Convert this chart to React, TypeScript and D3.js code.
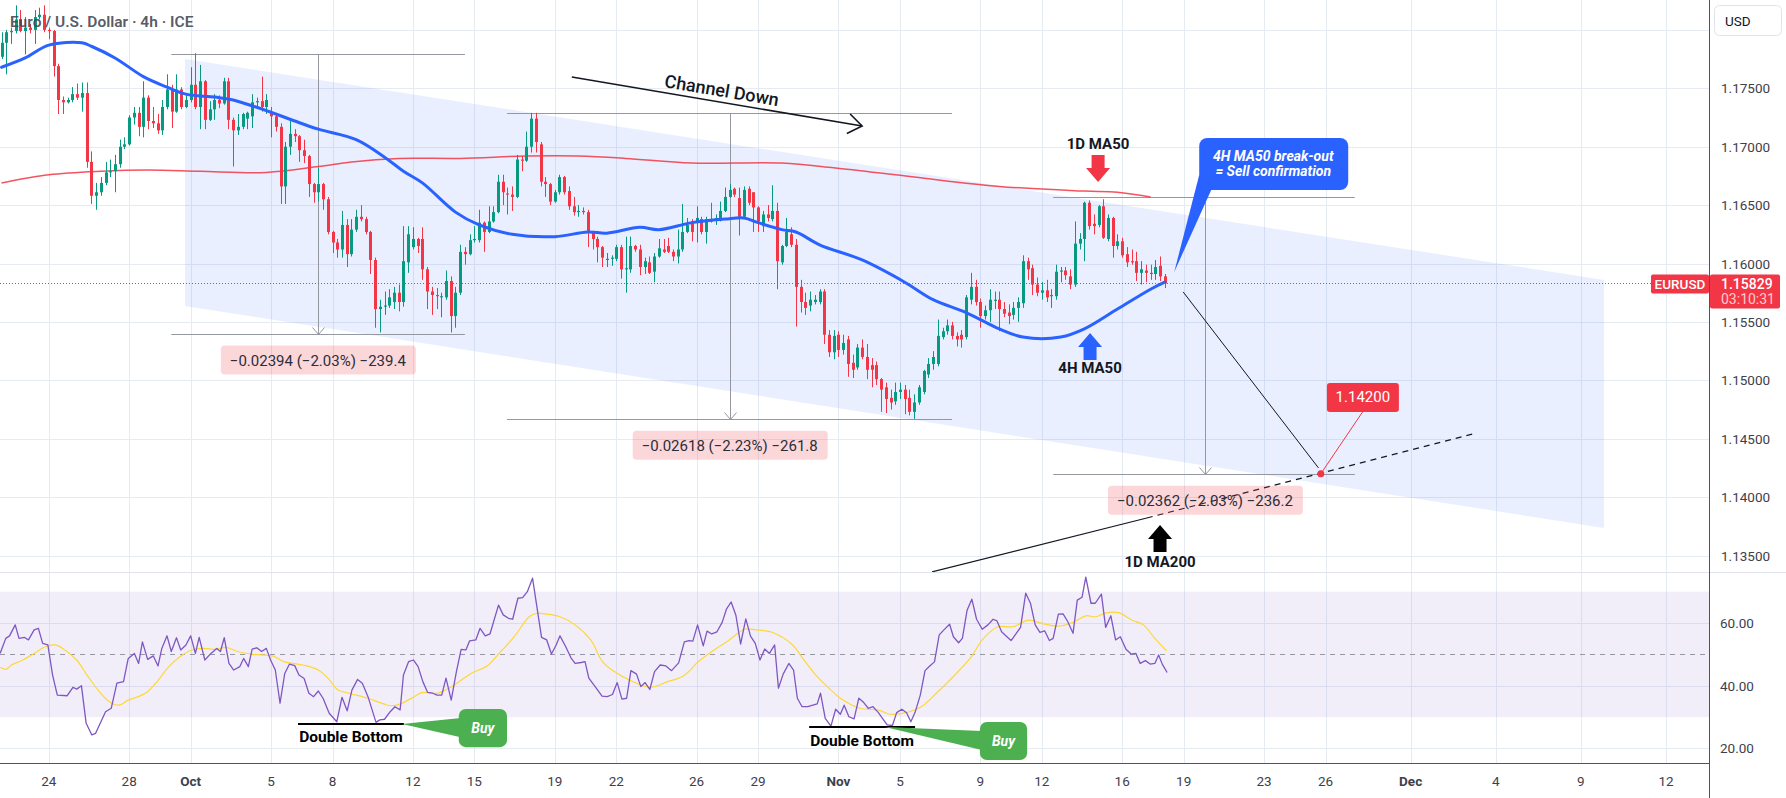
import { useEffect, useRef } from "react";
import * as d3 from "d3";

const W = 1786;
const H = 798;
const PLOT_R = 1709;
const PRICE_BOTTOM = 572;
const RSI_BOTTOM = 763;
const FONT = "Roboto, 'Noto Sans', Arial, sans-serif";

// 4h candles, first one sits at bar -10 (bar 0 = Sep 24 00:00)
const firstBar = -10;
const candles: [number, number, number, number][] = [
  [1.1777, 1.1798, 1.1775, 1.1789], [1.1789, 1.18, 1.1762, 1.1798], [1.1798, 1.1802, 1.1788, 1.1799],
  [1.1799, 1.1821, 1.1797, 1.1809], [1.1809, 1.1817, 1.1798, 1.1799], [1.1799, 1.1811, 1.1779, 1.1802],
  [1.1802, 1.1805, 1.1797, 1.18], [1.18, 1.1817, 1.1788, 1.1811], [1.1811, 1.1819, 1.1809, 1.1813],
  [1.1813, 1.1821, 1.1798, 1.18], [1.18, 1.1802, 1.1792, 1.1799], [1.1799, 1.18, 1.176, 1.1769],
  [1.1769, 1.1771, 1.1728, 1.174], [1.174, 1.1743, 1.1728, 1.1738], [1.1738, 1.1742, 1.1737, 1.174],
  [1.174, 1.1751, 1.1738, 1.1745], [1.1745, 1.1754, 1.174, 1.1742], [1.1742, 1.1755, 1.173, 1.1746],
  [1.1746, 1.1755, 1.1682, 1.1687], [1.1687, 1.1696, 1.1651, 1.1658], [1.1658, 1.1669, 1.1646, 1.1661],
  [1.1661, 1.1674, 1.1658, 1.1669], [1.1669, 1.1687, 1.1667, 1.1678], [1.1678, 1.1689, 1.1674, 1.1679],
  [1.1679, 1.1693, 1.1661, 1.1685], [1.1685, 1.1706, 1.1682, 1.17], [1.17, 1.1708, 1.1698, 1.1702],
  [1.1702, 1.1727, 1.1701, 1.1725], [1.1725, 1.1734, 1.1719, 1.1729], [1.1729, 1.1734, 1.1709, 1.1717],
  [1.1717, 1.1756, 1.1708, 1.1742], [1.1742, 1.1744, 1.1715, 1.1722], [1.1722, 1.1734, 1.1716, 1.172],
  [1.172, 1.1728, 1.1711, 1.1714], [1.1714, 1.174, 1.171, 1.1734], [1.1734, 1.1762, 1.1732, 1.1749],
  [1.1749, 1.1753, 1.1716, 1.173], [1.173, 1.1762, 1.1729, 1.1749], [1.1749, 1.1751, 1.1732, 1.1734],
  [1.1734, 1.1745, 1.1733, 1.174], [1.174, 1.1768, 1.1738, 1.1753], [1.1753, 1.178, 1.1732, 1.1734],
  [1.1734, 1.177, 1.1715, 1.1756], [1.1756, 1.1757, 1.1715, 1.1723], [1.1723, 1.1739, 1.1722, 1.1732],
  [1.1732, 1.1745, 1.1723, 1.174], [1.174, 1.1744, 1.1733, 1.1737], [1.1737, 1.1759, 1.1736, 1.1756],
  [1.1756, 1.1759, 1.1715, 1.1723], [1.1723, 1.1725, 1.1683, 1.1714], [1.1714, 1.1728, 1.171, 1.1717],
  [1.1717, 1.1729, 1.1715, 1.1728], [1.1724, 1.173, 1.1715, 1.1729], [1.1726, 1.1745, 1.1716, 1.1738],
  [1.1738, 1.1742, 1.1734, 1.1739], [1.1739, 1.176, 1.173, 1.1734], [1.1734, 1.1745, 1.1728, 1.174],
  [1.1729, 1.1734, 1.1708, 1.1726], [1.1726, 1.1727, 1.1713, 1.1717], [1.1717, 1.172, 1.1651, 1.1666],
  [1.1666, 1.1704, 1.1651, 1.17], [1.17, 1.1722, 1.1693, 1.1711], [1.1711, 1.1715, 1.1704, 1.1709],
  [1.1709, 1.171, 1.1687, 1.1697], [1.1697, 1.1706, 1.1686, 1.1692], [1.1692, 1.1693, 1.1657, 1.1668],
  [1.1668, 1.1669, 1.1652, 1.1661], [1.1661, 1.1682, 1.1653, 1.1668], [1.1668, 1.1669, 1.1646, 1.1655],
  [1.1655, 1.1657, 1.1625, 1.1627], [1.1627, 1.1628, 1.1609, 1.1618], [1.1618, 1.1621, 1.1605, 1.1612],
  [1.1612, 1.1645, 1.1605, 1.1633], [1.1633, 1.1638, 1.1597, 1.1608], [1.1608, 1.1638, 1.1606, 1.1629],
  [1.1629, 1.1646, 1.1627, 1.164], [1.164, 1.165, 1.1636, 1.1638], [1.1638, 1.164, 1.1625, 1.1627],
  [1.1627, 1.1628, 1.1591, 1.1603], [1.1603, 1.1605, 1.1545, 1.1561], [1.1561, 1.1569, 1.1541, 1.1563],
  [1.1563, 1.1576, 1.1556, 1.1564], [1.1564, 1.1578, 1.1562, 1.1571], [1.1567, 1.158, 1.1561, 1.1575],
  [1.1575, 1.1582, 1.1559, 1.1567], [1.1567, 1.1632, 1.1563, 1.1602], [1.1601, 1.1632, 1.1592, 1.1625],
  [1.1614, 1.1631, 1.1612, 1.1621], [1.1621, 1.1622, 1.1609, 1.1615], [1.1621, 1.1631, 1.1586, 1.1595],
  [1.1595, 1.1597, 1.1561, 1.1576], [1.1576, 1.158, 1.1556, 1.1573], [1.1573, 1.1579, 1.1561, 1.1572],
  [1.1571, 1.1575, 1.1554, 1.1572], [1.1571, 1.1594, 1.1569, 1.1585], [1.1585, 1.1589, 1.1541, 1.1555],
  [1.1555, 1.158, 1.1545, 1.1575], [1.1575, 1.1616, 1.1573, 1.161], [1.161, 1.1614, 1.1599, 1.1608],
  [1.1608, 1.1625, 1.1607, 1.162], [1.162, 1.1632, 1.1618, 1.1621], [1.162, 1.1646, 1.1618, 1.1635],
  [1.1635, 1.1636, 1.161, 1.1627], [1.1627, 1.1649, 1.1626, 1.1636], [1.1636, 1.1649, 1.1635, 1.1644],
  [1.1644, 1.1676, 1.1643, 1.167], [1.167, 1.1676, 1.165, 1.1661], [1.166, 1.1665, 1.1642, 1.1659],
  [1.1659, 1.1666, 1.1645, 1.1657], [1.1657, 1.1693, 1.1656, 1.1689], [1.1689, 1.1692, 1.1679, 1.1688],
  [1.1688, 1.1713, 1.1687, 1.17], [1.17, 1.1729, 1.1695, 1.1724], [1.1724, 1.1729, 1.1695, 1.1704],
  [1.1702, 1.1704, 1.1666, 1.167], [1.167, 1.1674, 1.1657, 1.1668], [1.1668, 1.1669, 1.165, 1.1653],
  [1.1653, 1.1663, 1.1652, 1.1661], [1.1661, 1.1676, 1.1659, 1.1674], [1.1674, 1.1675, 1.1659, 1.1661],
  [1.1662, 1.1666, 1.1646, 1.1649], [1.1649, 1.1657, 1.1641, 1.1644], [1.1644, 1.165, 1.164, 1.1645],
  [1.1645, 1.1648, 1.1642, 1.1644], [1.1644, 1.1646, 1.1614, 1.1627], [1.1627, 1.1628, 1.1612, 1.1621],
  [1.1621, 1.1623, 1.1601, 1.1614], [1.1614, 1.1615, 1.1597, 1.1605], [1.1603, 1.1609, 1.1597, 1.1604],
  [1.1604, 1.1607, 1.1598, 1.1605], [1.1604, 1.1616, 1.1602, 1.1614], [1.1614, 1.1616, 1.1587, 1.1595],
  [1.1595, 1.1623, 1.1575, 1.1596], [1.1595, 1.1623, 1.1592, 1.1615], [1.1615, 1.1616, 1.161, 1.1612],
  [1.1612, 1.1616, 1.159, 1.1597], [1.1597, 1.1605, 1.1591, 1.1602], [1.1601, 1.1606, 1.1591, 1.1592],
  [1.1593, 1.1609, 1.1584, 1.1606], [1.1606, 1.1621, 1.1605, 1.1613], [1.1612, 1.1621, 1.1609, 1.161],
  [1.1615, 1.1622, 1.1609, 1.161], [1.161, 1.1612, 1.1602, 1.1606], [1.1606, 1.1629, 1.16, 1.1612],
  [1.1612, 1.1651, 1.161, 1.1627], [1.1627, 1.1639, 1.1626, 1.1633], [1.1636, 1.1638, 1.1619, 1.1627],
  [1.1635, 1.1649, 1.1618, 1.1639], [1.1638, 1.164, 1.1625, 1.1627], [1.1627, 1.164, 1.1617, 1.1638],
  [1.1638, 1.1652, 1.1635, 1.1636], [1.1637, 1.1642, 1.1633, 1.1639], [1.1638, 1.1653, 1.1636, 1.1645],
  [1.1645, 1.1665, 1.1644, 1.1657], [1.1657, 1.1668, 1.1656, 1.1663], [1.1664, 1.1665, 1.1657, 1.1659],
  [1.1656, 1.1665, 1.1624, 1.164], [1.164, 1.1666, 1.1639, 1.1663], [1.1664, 1.1666, 1.165, 1.1652],
  [1.1661, 1.1661, 1.1627, 1.1648], [1.1648, 1.1649, 1.1627, 1.1636], [1.1632, 1.1645, 1.1627, 1.1642],
  [1.1642, 1.165, 1.1636, 1.1639], [1.1638, 1.1667, 1.1636, 1.1645], [1.1645, 1.1652, 1.1578, 1.1602],
  [1.1601, 1.1616, 1.1599, 1.1615], [1.1615, 1.1639, 1.1614, 1.1627], [1.1625, 1.1631, 1.1614, 1.1616],
  [1.1616, 1.1621, 1.1546, 1.158], [1.158, 1.1586, 1.1558, 1.1567], [1.1567, 1.1575, 1.1556, 1.1562],
  [1.1564, 1.1576, 1.1559, 1.1569], [1.1567, 1.1573, 1.1565, 1.1569], [1.1567, 1.1578, 1.1565, 1.1576],
  [1.1576, 1.1578, 1.1531, 1.1539], [1.1539, 1.1543, 1.152, 1.1524], [1.1524, 1.1543, 1.1518, 1.1538],
  [1.1539, 1.1542, 1.152, 1.1526], [1.1526, 1.1539, 1.1522, 1.1532], [1.1535, 1.1538, 1.1503, 1.1514],
  [1.1515, 1.1522, 1.1502, 1.1509], [1.1511, 1.1531, 1.1509, 1.1528], [1.1528, 1.1535, 1.1518, 1.152],
  [1.152, 1.1531, 1.1501, 1.1509], [1.1513, 1.1519, 1.1494, 1.1509], [1.1513, 1.1516, 1.1496, 1.1501],
  [1.1501, 1.1502, 1.1473, 1.1492], [1.1494, 1.1498, 1.1472, 1.1484], [1.1485, 1.1492, 1.1475, 1.1481],
  [1.1482, 1.1498, 1.1479, 1.149], [1.149, 1.1498, 1.1484, 1.1492], [1.1492, 1.1496, 1.1471, 1.1484],
  [1.1485, 1.1492, 1.147, 1.1473], [1.1473, 1.1488, 1.1467, 1.1481], [1.1481, 1.1496, 1.1479, 1.1494],
  [1.149, 1.1509, 1.1488, 1.1508], [1.1505, 1.1519, 1.1502, 1.1514], [1.1514, 1.1525, 1.1509, 1.152],
  [1.1514, 1.1552, 1.1512, 1.1538], [1.1537, 1.1545, 1.1535, 1.1542], [1.1542, 1.1552, 1.1539, 1.1547],
  [1.1547, 1.155, 1.1535, 1.1538], [1.1538, 1.1541, 1.1529, 1.1535], [1.1539, 1.1543, 1.1528, 1.1535],
  [1.1537, 1.1573, 1.1535, 1.1571], [1.1569, 1.1592, 1.1565, 1.158], [1.158, 1.1586, 1.1564, 1.1567],
  [1.1567, 1.157, 1.1545, 1.1555], [1.1555, 1.1564, 1.1552, 1.156], [1.156, 1.1578, 1.155, 1.1569],
  [1.1568, 1.1576, 1.1561, 1.1569], [1.1569, 1.1576, 1.1542, 1.1561], [1.1561, 1.1567, 1.1554, 1.1557],
  [1.1558, 1.1565, 1.1548, 1.1555], [1.1556, 1.1567, 1.1552, 1.1562], [1.1562, 1.1571, 1.155, 1.1567],
  [1.1566, 1.1607, 1.1562, 1.1602], [1.1602, 1.1605, 1.1586, 1.1595], [1.1596, 1.1599, 1.1573, 1.1582],
  [1.1582, 1.1588, 1.1572, 1.1575], [1.1575, 1.1584, 1.1569, 1.1577], [1.1577, 1.1586, 1.1567, 1.1571],
  [1.1572, 1.1578, 1.1562, 1.1573], [1.1572, 1.1599, 1.1569, 1.1593], [1.1593, 1.1597, 1.1584, 1.1594],
  [1.1594, 1.1597, 1.1586, 1.159], [1.1589, 1.1595, 1.1578, 1.1582], [1.1582, 1.1636, 1.158, 1.1617],
  [1.1617, 1.1626, 1.1612, 1.1621], [1.1621, 1.1653, 1.1602, 1.1652], [1.1652, 1.1654, 1.1629, 1.1632],
  [1.1634, 1.1642, 1.1625, 1.1632], [1.1633, 1.165, 1.1631, 1.1649], [1.1649, 1.1655, 1.1621, 1.1622],
  [1.1621, 1.1642, 1.1619, 1.1639], [1.1639, 1.164, 1.1605, 1.1615], [1.1615, 1.1625, 1.1612, 1.1619],
  [1.1619, 1.1622, 1.1605, 1.1607], [1.1608, 1.1614, 1.1597, 1.1601], [1.1602, 1.1612, 1.1599, 1.1601],
  [1.1602, 1.161, 1.1585, 1.1592], [1.1592, 1.1602, 1.1582, 1.1595], [1.1594, 1.1599, 1.1584, 1.1592],
  [1.1592, 1.1599, 1.1586, 1.1591], [1.1591, 1.1603, 1.1586, 1.1597], [1.1598, 1.1606, 1.1585, 1.1589],
  [1.1589, 1.1591, 1.1579, 1.15829],
];

// 4H MA50 (blue) and 1D MA50 (red), read at bar positions
const ma50Bars = [-10, -5, 0, 7, 9, 14, 20, 25, 29, 36, 39, 43, 48, 52, 57, 65, 71, 75, 79, 86, 91, 98, 107, 114, 118, 125, 129, 136, 143, 147, 150, 155, 158, 163, 172, 181, 187, 194, 201, 206, 214, 219, 226, 233, 236];
const ma50Vals = [1.1768, 1.1776, 1.1787, 1.1789, 1.1786, 1.1776, 1.176, 1.1751, 1.1745, 1.1742, 1.174, 1.1735, 1.1728, 1.1722, 1.1715, 1.1706, 1.1691, 1.1679, 1.1669, 1.1644, 1.1633, 1.1625, 1.1623, 1.1627, 1.1626, 1.1631, 1.1629, 1.1635, 1.1638, 1.1639, 1.1635, 1.1629, 1.1627, 1.1616, 1.1603, 1.1584, 1.1569, 1.1558, 1.1544, 1.1537, 1.1537, 1.1544, 1.1561, 1.1578, 1.1584];
const dayMaBars = [-10, 0, 11, 21, 32, 46, 57, 64, 74, 87, 101, 112, 122, 136, 155, 166, 183, 201, 219, 226, 233];
const dayMaVals = [1.1669, 1.1676, 1.1679, 1.168, 1.1679, 1.1678, 1.1683, 1.1687, 1.169, 1.169, 1.1692, 1.1692, 1.169, 1.1686, 1.1686, 1.1682, 1.1674, 1.1666, 1.1662, 1.1661, 1.1657];

// RSI 14 and its moving average
const rsiBars = [-10.3, -9.1, -8.3, -7.1, -6.3, -5.1, -4.3, -3.1, -2.2, -1.3, -0.2, 0.8, 1.8, 3.9, 5.1, 5.9, 6.9, 7.9, 9.1, 9.9, 12, 13.2, 14.4, 15.8, 16.8, 18.1, 19, 19.8, 20.9, 22.1, 23.1, 23.9, 25, 25.9, 27, 27.9, 29, 30, 31, 31.8, 33, 34.3, 35.5, 36.3, 37.1, 38.1, 39.1, 40.4, 41.2, 42.2, 43, 44, 45, 46, 46.9, 47.9, 48.9, 49.9, 50.9, 52, 52.9, 54, 55, 56, 57, 58, 59.3, 60.9, 62, 63.1, 64.1, 65.3, 66.3, 67.5, 69.2, 70, 71, 72.2, 73.2, 74.3, 75, 76.1, 77.1, 78.1, 79.1, 80.1, 81.2, 82.1, 83.1, 84, 85.1, 86.2, 87.2, 88.2, 89, 90.3, 91.2, 92.3, 93.3, 95.1, 96.1, 97.2, 98.1, 99.2, 100.2, 101.2, 102.3, 104.2, 105.3, 106.3, 107.3, 108.1, 109.3, 110.5, 111.3, 112.6, 113.4, 114.2, 115.5, 117, 118.1, 119.2, 120.2, 121.2, 122.2, 123.1, 124.3, 125.2, 126.1, 127.1, 128.1, 129.3, 130.5, 131.7, 133.2, 134.4, 135.4, 136.2, 137.2, 138.4, 139.2, 140.2, 141.3, 142.4, 143.3, 144.3, 145.3, 146.3, 147.4, 148.4, 149.4, 150.4, 151.4, 152.4, 153.5, 154.3, 155.3, 156.5, 157.5, 158.3, 159.3, 160.5, 162.5, 163.2, 164.2, 165.4, 166.4, 167.4, 168.2, 169.2, 170.3, 171.3, 172.3, 173.3, 174.3, 175.4, 176.3, 177.3, 178.4, 179.3, 180.4, 181.4, 182.3, 183.2, 184.3, 185.3, 186.3, 187.3, 188.3, 189.3, 190.5, 191.3, 192.4, 193.2, 194.2, 195.2, 196.2, 197.4, 198.6, 199.7, 200.5, 201.5, 202.5, 203.5, 204.6, 205.5, 206.6, 207.6, 208.6, 209.6, 210.6, 211.6, 212.4, 213.5, 214.5, 215.5, 216.6, 217.5, 218.5, 219.3, 220.4, 221.3, 222.6, 223.5, 224.6, 225.6, 226.6, 227.8, 228.9, 229.9, 230.8, 231.9, 232.9, 233.9, 234.7, 235.5, 236.5];
const rsiVals = [50.3, 55.1, 55.9, 59.4, 55.1, 55.4, 54.6, 57.8, 58.3, 53.5, 53.0, 43.4, 37.0, 36.8, 39.5, 38.9, 40.0, 28.0, 24.3, 24.8, 31.7, 32.8, 40.8, 41.3, 48.7, 50.3, 47.1, 54.0, 48.4, 49.5, 46.3, 51.9, 55.9, 50.9, 55.3, 51.4, 53.0, 55.9, 50.3, 55.4, 48.2, 50.3, 51.9, 50.9, 55.3, 47.1, 45.0, 46.1, 48.7, 46.1, 51.7, 52.1, 50.9, 51.9, 48.2, 45.0, 34.4, 43.9, 46.9, 46.4, 43.4, 42.3, 37.6, 36.5, 38.3, 36.0, 31.2, 28.5, 36.3, 32.0, 38.6, 42.0, 40.8, 36.5, 28.3, 29.1, 29.3, 31.7, 33.3, 32.3, 43.4, 47.7, 48.2, 46.1, 41.3, 37.9, 37.6, 37.0, 37.0, 42.4, 35.4, 44.5, 51.6, 51.4, 54.3, 54.6, 58.3, 55.9, 56.5, 65.7, 62.6, 61.5, 61.2, 67.9, 68.1, 70.0, 74.3, 55.4, 54.6, 50.1, 53.0, 55.9, 52.5, 48.7, 47.1, 47.4, 47.7, 42.4, 39.8, 36.7, 36.5, 37.2, 41.0, 35.7, 36.0, 44.8, 43.7, 39.7, 41.0, 38.8, 44.5, 46.6, 46.3, 44.8, 47.3, 54.0, 54.4, 54.2, 59.4, 52.7, 57.4, 56.5, 57.2, 60.2, 64.4, 66.7, 62.5, 53.3, 61.3, 55.8, 53.5, 48.2, 51.7, 50.3, 53.0, 39.2, 43.7, 47.1, 45.0, 36.0, 33.3, 33.3, 34.2, 37.6, 29.6, 27.1, 32.5, 30.9, 33.8, 30.1, 29.4, 36.0, 34.7, 32.8, 33.3, 31.5, 29.6, 27.5, 27.3, 31.4, 32.5, 31.4, 28.5, 31.5, 37.0, 44.8, 46.3, 47.6, 56.2, 57.8, 59.6, 55.6, 53.7, 55.1, 64.1, 67.6, 61.2, 58.0, 59.4, 61.2, 60.7, 57.2, 55.8, 54.4, 56.7, 58.6, 69.5, 66.3, 59.4, 57.0, 57.5, 54.4, 55.1, 62.8, 62.9, 60.4, 56.7, 67.3, 68.2, 74.6, 66.3, 66.3, 69.2, 58.6, 62.3, 54.6, 55.6, 51.6, 50.1, 50.3, 47.1, 48.0, 46.9, 47.1, 49.8, 46.8, 44.2];
const rsiMaBars = [-10.3, -9.1, -7.9, -5.5, -3.1, -0.6, 1.4, 3.4, 5.9, 8.3, 10.7, 12.8, 14.8, 16.8, 18.9, 20.9, 22.9, 25.4, 27.8, 30.2, 32.7, 35.1, 37.5, 39.9, 43.2, 47.3, 49.7, 53.7, 57, 59.4, 61, 63.5, 67.5, 70.8, 72.4, 74.4, 77.3, 78.9, 82.1, 85.4, 89.4, 92.7, 95.1, 98.4, 101.6, 103.2, 104.9, 108.1, 111.3, 114.6, 117.1, 119.6, 122.8, 127.3, 130.9, 134.2, 137.4, 140.7, 143.9, 147.1, 149.6, 153.2, 157.3, 159.3, 162.5, 165, 167.4, 171.5, 175.5, 178, 181.2, 184.5, 187.7, 190.9, 195, 197.4, 200.7, 203.9, 207.2, 210.4, 213.6, 216.9, 219.3, 221.3, 223.8, 226.2, 229.1, 231.5, 233.9, 236.4];
const rsiMaVals = [45.9, 45.2, 46.6, 48.2, 50.3, 52.5, 53.0, 51.4, 48.2, 42.9, 38.1, 34.9, 33.8, 35.4, 36.5, 38.1, 41.3, 46.1, 49.3, 51.4, 51.9, 51.6, 52.2, 50.9, 50.0, 49.5, 47.7, 46.6, 45.0, 41.8, 38.8, 37.6, 36.0, 34.2, 33.6, 34.2, 36.5, 37.8, 37.6, 39.9, 44.0, 46.3, 50.1, 55.6, 62.0, 63.1, 62.9, 62.0, 59.4, 54.6, 47.7, 44.5, 41.8, 39.5, 41.3, 43.1, 47.7, 51.4, 54.6, 58.0, 57.8, 56.9, 53.0, 49.0, 42.9, 39.2, 36.0, 32.8, 32.2, 30.9, 31.4, 33.3, 37.6, 42.3, 49.0, 54.6, 58.8, 58.8, 60.9, 59.7, 59.0, 60.4, 62.3, 62.0, 63.3, 63.3, 60.9, 59.4, 55.1, 51.1];

const priceTicks = [1.135, 1.14, 1.145, 1.15, 1.155, 1.16, 1.165, 1.17, 1.175, 1.18];
const rsiTicks = [20, 40, 60];
const dateLabels = ["24", "28", "Oct", "5", "8", "12", "15", "19", "22", "26", "29", "Nov", "5", "9", "12", "16", "19", "23", "26", "Dec", "4", "9", "12"];
const dateBars = [0, 17, 30, 47, 60, 77, 90, 107, 120, 137, 150, 167, 180, 197, 210, 227, 240, 257, 270, 288, 306, 324, 342];
const monthLabels = ["Oct", "Nov", "Dec"];

const lastPrice = 1.15829;
const countdown = "03:10:31";

// drawings
const channelBars = [28.8, 328.9, 328.9, 28.8];
const channelPrices = [1.17751, 1.15859, 1.13736, 1.15636];
const measureFrom = [25.9, 96.9, 212.4];
const measureTo = [88.0, 191, 276.2];
const measureMid = [56.9, 144, 244.5];
const measureTop = [1.17794, 1.17288, 1.16569];
const measureBottom = [1.154, 1.1467, 1.142];
const measureTexts = ["\u22120.02394 (\u22122.03%) \u2212239.4", "\u22120.02618 (\u22122.23%) \u2212261.8", "\u22120.02362 (\u22122.03%) \u2212236.2"];
const targetPrice = 1.142;
const targetBar = 269;
const dbFrom = [52.7, 160.8];
const dbTo = [75.1, 183.2];
const dbLevel = [27.8, 26.8];
const buyTipBars = [74.7, 176.8];
const buyBoxBars = [[86.7, 96.9], [196.9, 206.9]];
const buyBoxRsi = [[32.6, 20.4], [28.4, 16.3]];

export default function App() {
  const ref = useRef<SVGSVGElement>(null);

  useEffect(() => {
    document.body.style.margin = "0";
    if (!ref.current) return;
    const svg = d3.select(ref.current);
    svg.selectAll("*").remove();

    const x = d3.scaleLinear().domain([0, 342]).range([48.8, 1666]);
    const y = d3.scaleLinear().domain([1.135, 1.175]).range([555.5, 88.3]);
    const yr = d3.scaleLinear().domain([20, 60]).range([748.4, 623]);

    const defs = svg.append("defs");
    defs.append("clipPath").attr("id", "pricePane").append("rect").attr("x", 0).attr("y", 0).attr("width", PLOT_R).attr("height", PRICE_BOTTOM);
    defs.append("clipPath").attr("id", "rsiPane").append("rect").attr("x", 0).attr("y", PRICE_BOTTOM + 1).attr("width", PLOT_R).attr("height", RSI_BOTTOM - PRICE_BOTTOM - 1);

    svg.append("rect").attr("width", W).attr("height", H).attr("fill", "#fff");

    // grid
    const grid = svg.append("g").attr("stroke", "#e6ebf2").attr("stroke-width", 1);
    priceTicks.forEach((t) => {
      const yy = Math.round(y(t)) + 0.5;
      grid.append("line").attr("x1", 0).attr("x2", PLOT_R).attr("y1", yy).attr("y2", yy);
    });
    rsiTicks.forEach((t) => {
      const yy = Math.round(yr(t)) + 0.5;
      grid.append("line").attr("x1", 0).attr("x2", PLOT_R).attr("y1", yy).attr("y2", yy);
    });
    dateBars.forEach((b) => {
      const xx = Math.round(x(b)) + 0.5;
      grid.append("line").attr("x1", xx).attr("x2", xx).attr("y1", 0).attr("y2", RSI_BOTTOM);
    });

    const price = svg.append("g").attr("clip-path", "url(#pricePane)");

    // parallel channel
    const chPts = channelBars.map((b, i) => [x(b), y(channelPrices[i])].join(",")).join(" ");
    price.append("polygon").attr("points", chPts).attr("fill", "rgba(41,98,255,0.1)");

    // measurement tools
    measureTop.forEach((top, i) => {
      const g = price.append("g").attr("stroke", "#9598a1").attr("stroke-width", 1).attr("fill", "none");
      const x1 = x(measureFrom[i]), x2 = x(measureTo[i]), xm = Math.round(x(measureMid[i])) + 0.5;
      const yt = Math.round(y(top)) + 0.5, yb = Math.round(y(measureBottom[i])) + 0.5;
      g.append("line").attr("x1", x1).attr("x2", x2).attr("y1", yt).attr("y2", yt);
      g.append("line").attr("x1", x1).attr("x2", x2).attr("y1", yb).attr("y2", yb);
      g.append("line").attr("x1", xm).attr("x2", xm).attr("y1", yt).attr("y2", yb);
      g.append("path").attr("d", `M${xm - 6},${yb - 7}L${xm},${yb}L${xm + 6},${yb - 7}`);
    });

    // moving averages
    const maLine = d3.line<number>().curve(d3.curveCatmullRom.alpha(0.5));
    price.append("path")
      .attr("d", maLine.x((_, i) => x(dayMaBars[i])).y((v) => y(v))(dayMaVals))
      .attr("fill", "none").attr("stroke", "#f23645").attr("stroke-opacity", 0.85).attr("stroke-width", 1.5);

    // candles
    const cg = price.append("g");
    candles.forEach((c, i) => {
      const [o, h, l, cl] = c;
      const b = firstBar + i;
      const cx = Math.round(x(b));
      const col = cl >= o ? "#089981" : "#f23645";
      cg.append("line").attr("x1", cx + 0.5).attr("x2", cx + 0.5).attr("y1", y(h)).attr("y2", y(l)).attr("stroke", col).attr("stroke-width", 1);
      const top = y(Math.max(o, cl));
      const hgt = Math.max(1, Math.abs(y(o) - y(cl)));
      cg.append("rect").attr("x", cx - 1).attr("width", 3).attr("y", top).attr("height", hgt).attr("fill", col);
    });

    price.append("path")
      .attr("d", d3.line<number>().curve(d3.curveCatmullRom.alpha(0.5)).x((_, i) => x(ma50Bars[i])).y((v) => y(v))(ma50Vals))
      .attr("fill", "none").attr("stroke", "#2962ff").attr("stroke-width", 3).attr("stroke-linecap", "round");

    // last price line
    const yLast = Math.round(y(lastPrice)) + 0.5;
    price.append("line").attr("x1", 0).attr("x2", 1651).attr("y1", yLast).attr("y2", yLast)
      .attr("stroke", "#f23645").attr("stroke-width", 1).attr("stroke-dasharray", "1,2");

    // 1D MA200 projection line
    const ma200A: [number, number] = [x(186.8), y(1.1336)];
    const ma200B: [number, number] = [x(232.2), y(1.13821)];
    const ma200C: [number, number] = [x(302), y(1.14549)];
    price.append("line").attr("x1", ma200A[0]).attr("y1", ma200A[1]).attr("x2", ma200B[0]).attr("y2", ma200B[1]).attr("stroke", "#131722").attr("stroke-width", 1.2);
    price.append("line").attr("x1", ma200B[0]).attr("y1", ma200B[1]).attr("x2", ma200C[0]).attr("y2", ma200C[1])
      .attr("stroke", "#131722").attr("stroke-width", 1.2).attr("stroke-dasharray", "6,5");

    // projected path to target
    price.append("line").attr("x1", x(239.9)).attr("y1", y(1.15756)).attr("x2", x(268.5)).attr("y2", y(1.1425)).attr("stroke", "#131722").attr("stroke-width", 1);

    // channel down arrow
    const ca: [number, number] = [x(110.6), y(1.17597)];
    const cb: [number, number] = [x(172), y(1.17177)];
    const ang = Math.atan2(cb[1] - ca[1], cb[0] - ca[0]);
    price.append("line").attr("x1", ca[0]).attr("y1", ca[1]).attr("x2", cb[0]).attr("y2", cb[1]).attr("stroke", "#131722").attr("stroke-width", 1.6);
    const hd = (s: number) => `${cb[0] - 17 * Math.cos(ang + s)},${cb[1] - 17 * Math.sin(ang + s)}`;
    price.append("path").attr("d", `M${hd(0.62)}L${cb[0]},${cb[1]}L${hd(-0.62)}`).attr("fill", "none").attr("stroke", "#131722").attr("stroke-width", 1.6);
    const tm = [ca[0] + (cb[0] - ca[0]) * 0.51, ca[1] + (cb[1] - ca[1]) * 0.51];
    const tx = tm[0] + 12 * Math.sin(ang), ty = tm[1] - 12 * Math.cos(ang);
    price.append("text").attr("x", tx).attr("y", ty).attr("transform", `rotate(${(ang * 180) / Math.PI},${tx},${ty})`)
      .attr("text-anchor", "middle").attr("dominant-baseline", "central")
      .attr("font-family", FONT).attr("font-size", 18).attr("font-weight", 500).attr("fill", "#131722").text("Channel Down");

    // measurement labels
    measureTexts.forEach((t, i) => {
      const xm = x(measureMid[i]);
      const yb = y(measureBottom[i]);
      price.append("rect").attr("x", xm - 97).attr("y", yb + 12).attr("width", 195).attr("height", 29).attr("rx", 4).attr("fill", "rgba(242,54,69,0.2)");
      price.append("text").attr("x", xm).attr("y", yb + 27).attr("text-anchor", "middle").attr("dominant-baseline", "central")
        .attr("font-family", FONT).attr("font-size", 15).attr("fill", "#2a2e39").text(t);
    });

    // arrows with labels
    const arrow = (bar: number, p: number, dir: number, color: string, label: string, off: number) => {
      const tx0 = x(bar), ty0 = y(p);
      const pts = [[-6.5, 27], [6.5, 27], [6.5, 14], [12, 14], [0, 0], [-12, 14], [-6.5, 14]]
        .map(([dx, dy]) => `${tx0 + dx},${ty0 - dir * dy}`).join(" ");
      price.append("polygon").attr("points", pts).attr("fill", color);
      price.append("text").attr("x", tx0).attr("y", ty0 - dir * off).attr("text-anchor", "middle").attr("dominant-baseline", "central")
        .attr("font-family", FONT).attr("font-size", 15).attr("font-weight", 700).attr("fill", "#131722").text(label);
    };
    arrow(221.9, 1.16697, 1, "#f23645", "1D MA50", 38);
    arrow(220.2, 1.15405, -1, "#2962ff", "4H MA50", 35);
    arrow(235, 1.13762, -1, "#000", "1D MA200", 37);

    // callout
    const tipX = x(238), tipY = y(1.15927);
    price.append("polygon").attr("points", `${tipX + 25},${tipY - 97} ${tipX},${tipY} ${tipX + 37},${tipY - 82}`).attr("fill", "#2962ff");
    price.append("rect").attr("x", tipX + 25).attr("y", tipY - 134).attr("width", 149).attr("height", 52).attr("rx", 8).attr("fill", "#2962ff");
    ["4H MA50 break-out", "= Sell confirmation"].forEach((t, i) => {
      price.append("text").attr("x", tipX + 99).attr("y", tipY - 116 + i * 15).attr("text-anchor", "middle").attr("dominant-baseline", "central")
        .attr("font-family", FONT).attr("font-size", 14).attr("font-weight", 700).attr("font-style", "italic").attr("fill", "#fff").text(t);
    });

    // target
    const dotX = x(targetBar), dotY = y(targetPrice);
    const lbX = x(277.9), lbY = y(1.14853);
    price.append("line").attr("x1", lbX).attr("y1", lbY + 14).attr("x2", dotX).attr("y2", dotY).attr("stroke", "#f23645").attr("stroke-width", 1);
    price.append("circle").attr("cx", dotX).attr("cy", dotY).attr("r", 3.5).attr("fill", "#f23645");
    price.append("rect").attr("x", lbX - 36).attr("y", lbY - 14.5).attr("width", 72).attr("height", 29).attr("rx", 3).attr("fill", "#f23645");
    price.append("text").attr("x", lbX).attr("y", lbY).attr("text-anchor", "middle").attr("dominant-baseline", "central")
      .attr("font-family", FONT).attr("font-size", 15).attr("fill", "#fff").text(targetPrice.toFixed(5));

    // header
    svg.append("text").attr("x", 10).attr("y", 27).attr("font-family", FONT).attr("font-size", 15.5).attr("font-weight", 600)
      .attr("fill", "#434651").attr("fill-opacity", 0.9).text("Euro / U.S. Dollar \u00b7 4h \u00b7 ICE");

    // RSI pane
    const rsi = svg.append("g").attr("clip-path", "url(#rsiPane)");
    rsi.append("rect").attr("x", 0).attr("width", PLOT_R).attr("y", yr(70)).attr("height", yr(30) - yr(70)).attr("fill", "rgba(126,87,194,0.1)");
    rsi.append("line").attr("x1", 0).attr("x2", PLOT_R).attr("y1", Math.round(yr(50)) + 0.5).attr("y2", Math.round(yr(50)) + 0.5)
      .attr("stroke", "#9598a1").attr("stroke-dasharray", "5,5").attr("stroke-width", 1);
    rsi.append("path").attr("d", d3.line<number>().curve(d3.curveCatmullRom.alpha(0.5)).x((_, i) => x(rsiMaBars[i])).y((v) => yr(v))(rsiMaVals))
      .attr("fill", "none").attr("stroke", "#fdd835").attr("stroke-width", 1.2);
    rsi.append("path").attr("d", d3.line<number>().x((_, i) => x(rsiBars[i])).y((v) => yr(v))(rsiVals))
      .attr("fill", "none").attr("stroke", "#7e57c2").attr("stroke-width", 1.3).attr("stroke-linejoin", "round");

    dbFrom.forEach((f, i) => {
      const yy = yr(dbLevel[i]);
      svg.append("line").attr("x1", x(f)).attr("x2", x(dbTo[i])).attr("y1", yy).attr("y2", yy).attr("stroke", "#000").attr("stroke-width", 2);
      svg.append("text").attr("x", (x(f) + x(dbTo[i])) / 2).attr("y", yy + 13.5).attr("text-anchor", "middle").attr("dominant-baseline", "central")
        .attr("font-family", FONT).attr("font-size", 15.5).attr("font-weight", 700).attr("fill", "#000").text("Double Bottom");
      const bx0 = x(buyBoxBars[i][0]), bx1 = x(buyBoxBars[i][1]);
      const by0 = yr(buyBoxRsi[i][0]), by1 = yr(buyBoxRsi[i][1]);
      svg.append("polygon").attr("points", `${bx0 + 2},${by0 + 9} ${x(buyTipBars[i])},${yy} ${bx0 + 2},${by1 - 10}`).attr("fill", "#4caf50");
      svg.append("rect").attr("x", bx0).attr("y", by0).attr("width", bx1 - bx0).attr("height", by1 - by0).attr("rx", 7).attr("fill", "#4caf50");
      svg.append("text").attr("x", (bx0 + bx1) / 2).attr("y", (by0 + by1) / 2).attr("text-anchor", "middle").attr("dominant-baseline", "central")
        .attr("font-family", FONT).attr("font-size", 14).attr("font-weight", 700).attr("font-style", "italic").attr("fill", "#fff").text("Buy");
    });

    // axes frame
    svg.append("line").attr("x1", 0).attr("x2", W).attr("y1", PRICE_BOTTOM + 0.5).attr("y2", PRICE_BOTTOM + 0.5).attr("stroke", "#e0e3eb");
    svg.append("line").attr("x1", 0).attr("x2", PLOT_R).attr("y1", RSI_BOTTOM + 0.5).attr("y2", RSI_BOTTOM + 0.5).attr("stroke", "#50535e");
    svg.append("line").attr("x1", PLOT_R + 0.5).attr("x2", PLOT_R + 0.5).attr("y1", 0).attr("y2", H).attr("stroke", "#50535e");

    const axisText = (sel: d3.Selection<SVGTextElement, unknown, null, undefined>) =>
      sel.attr("font-family", FONT).attr("font-size", 13.5).attr("fill", "#3d414c").attr("dominant-baseline", "central");

    priceTicks.filter((t) => t < 1.178).forEach((t) => {
      axisText(svg.append("text").attr("x", 1721).attr("y", y(t))).text(t.toFixed(5));
    });
    rsiTicks.forEach((t) => {
      axisText(svg.append("text").attr("x", 1720).attr("y", yr(t))).text(t.toFixed(2));
    });
    dateLabels.forEach((lab, i) => {
      axisText(svg.append("text").attr("x", x(dateBars[i])).attr("y", 781).attr("text-anchor", "middle"))
        .attr("font-weight", monthLabels.includes(lab) ? 700 : 400).text(lab);
    });

    // currency box
    svg.append("rect").attr("x", 1714.5).attr("y", 5.5).attr("width", 67).attr("height", 30).attr("rx", 5).attr("fill", "#fff").attr("stroke", "#e0e3eb");
    svg.append("text").attr("x", 1725).attr("y", 21).attr("font-family", FONT).attr("font-size", 13.5).attr("fill", "#131722").attr("dominant-baseline", "central").text("USD");

    // last price tags
    const ly = y(lastPrice);
    svg.append("rect").attr("x", 1651).attr("y", ly - 9).attr("width", 58).attr("height", 19).attr("rx", 2).attr("fill", "#f23645");
    svg.append("text").attr("x", 1680).attr("y", ly + 0.5).attr("text-anchor", "middle").attr("dominant-baseline", "central")
      .attr("font-family", FONT).attr("font-size", 13.5).attr("font-weight", 500).attr("fill", "#fff").text("EURUSD");
    svg.append("rect").attr("x", 1710).attr("y", ly - 9).attr("width", 70).attr("height", 34).attr("rx", 2).attr("fill", "#f23645");
    svg.append("text").attr("x", 1721).attr("y", ly + 1).attr("dominant-baseline", "central")
      .attr("font-family", FONT).attr("font-size", 14).attr("font-weight", 500).attr("fill", "#fff").text(lastPrice.toFixed(5));
    svg.append("text").attr("x", 1721).attr("y", ly + 16).attr("dominant-baseline", "central")
      .attr("font-family", FONT).attr("font-size", 14).attr("fill", "#fff").attr("fill-opacity", 0.75).text(countdown);
  }, []);

  return <svg ref={ref} width={W} height={H} style={{ display: "block" }} />;
}
